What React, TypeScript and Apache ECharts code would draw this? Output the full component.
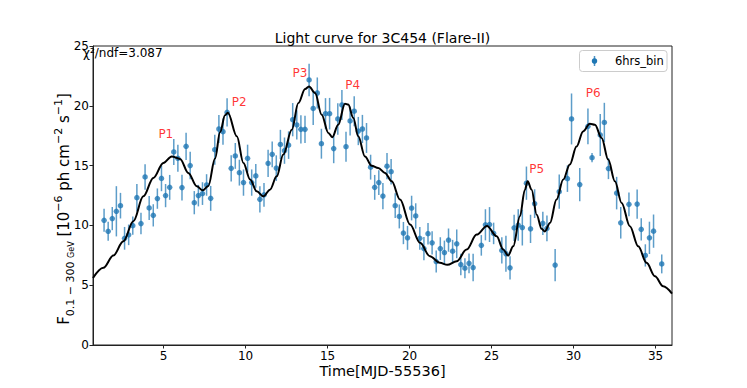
import React, { useEffect, useRef } from 'react';
import * as echarts from 'echarts';

const times = [
  1.375, 1.625, 1.875, 2.125, 2.375, 2.625, 2.875, 3.125, 3.375, 3.625,
  3.875, 4.125, 4.375, 4.625, 4.875, 5.125, 5.375, 5.625, 5.875, 6.125,
  6.375, 6.625, 6.875, 7.125, 7.375, 7.625, 7.875, 8.125, 8.375, 8.625,
  8.875, 9.125, 9.375, 9.625, 9.875, 10.125, 10.375, 10.625, 10.875, 11.125,
  11.375, 11.625, 11.875, 12.125, 12.375, 12.625, 12.875, 13.125, 13.375, 13.625,
  13.875, 14.125, 14.375, 14.625, 14.875, 15.125, 15.375, 15.625, 15.875, 16.125,
  16.375, 16.625, 16.875, 17.125, 17.375, 17.625, 17.875, 18.125, 18.375, 18.625,
  18.875, 19.125, 19.375, 19.625, 19.875, 20.125, 20.375, 20.625, 20.875, 21.125,
  21.375, 21.625, 21.875, 22.125, 22.375, 22.625, 22.875, 23.125, 23.375, 23.625, 23.875,
  24.375, 24.625, 24.875, 25.125,
  25.625, 25.875, 26.125, 26.375, 26.625, 26.875, 27.125, 27.375, 27.625,
  28.125, 28.375,
  28.875, 29.125,
  29.625, 29.875,
  30.375,
  30.875, 31.125,
  31.625, 31.875, 32.125,
  32.625, 32.875,
  33.375,
  33.875, 34.125, 34.375, 34.625, 34.875,
  35.375,
];

const fluxes = [
  10.43, 9.51, 10.57, 11.18, 11.65, 8.92, 9.21, 9.98, 12.32, 10.15,
  14.05, 11.46, 10.84, 12.24, 13.93, 12.49, 13.18, 16.14, 15.61, 13.16,
  16.61, 15.0, 11.9, 12.49, 12.66, 13.38, 12.26, 16.33, 18.06, 17.84,
  19.45, 14.77, 15.81, 14.41, 13.58, 15.61, 13.58, 14.14, 12.18, 12.55,
  15.19, 15.94, 14.79, 16.77, 16.25, 16.71, 18.84, 18.4, 18.03, 18.03,
  22.16, 19.78, 21.07, 16.83, 19.34, 19.34, 16.42, 18.9, 20.07, 16.58,
  18.73, 19.55, 17.89, 18.06, 17.31, 14.87, 13.18, 13.58, 12.45, 14.95,
  14.49, 11.65, 10.75, 9.36, 8.96, 11.45, 10.79, 8.92, 8.06, 9.31,
  8.54, 6.98, 8.06, 7.73, 8.77, 7.84, 8.46, 6.73, 6.42, 6.83, 6.47,
  8.33, 10.05, 10.07, 9.33,
  7.91, 7.63, 6.45, 9.8, 10.03, 9.82, 13.53, 9.71, 11.82,
  10.17, 9.75,
  6.68, 12.82,
  13.91, 18.9,
  13.41,
  18.28, 15.66,
  17.56, 18.61, 14.75,
  12.7, 10.22,
  11.76,
  11.78, 9.67, 7.49, 8.96, 9.52,
  6.78,
];

const errors = [
  0.97, 0.8, 0.97, 2.1, 1.07, 0.95, 0.86, 0.77, 1.15, 0.9,
  1.07, 1.0, 0.93, 0.85, 1.07, 0.97, 1.04, 1.08, 1.13, 1.08,
  1.14, 1.15, 0.97, 0.9, 0.95, 0.9, 1.04, 1.25, 1.18, 1.1,
  1.18, 1.1, 1.08, 1.08, 1.1, 1.14, 1.1, 1.0, 1.1, 1.0,
  1.14, 1.07, 1.07, 1.22, 1.1, 1.15, 1.39, 1.22, 1.18, 1.14,
  1.36, 1.39, 1.3, 1.25, 1.3, 1.32, 1.22, 1.32, 1.25, 1.25,
  1.22, 1.25, 1.18, 1.18, 1.25, 1.04, 1.04, 1.04, 1.1, 1.1,
  1.07, 1.04, 1.0, 0.93, 1.0, 1.03, 1.06, 0.95, 0.97, 0.9,
  0.97, 0.92, 0.95, 1.0, 0.97, 0.95, 1.2, 0.9, 0.83, 0.83, 1.15,
  0.86, 1.3, 1.46, 0.9,
  1.1, 1.5, 0.97, 1.1, 1.32, 1.5, 1.39, 1.18, 1.2,
  0.97, 1.08,
  1.35, 1.43,
  1.11, 2.13,
  1.39,
  1.49, 0.39,
  1.76, 1.64, 0.88,
  1.36, 1.32,
  1.0,
  1.22, 0.93, 0.93, 1.35, 1.39,
  0.79,
];

const curveT = [
  0.7, 1.33, 1.94, 2.55, 3.16, 3.77, 4.38, 4.99, 5.5, 6.01,
  6.51, 7.03, 7.39, 7.73, 8.14, 8.45, 8.75, 8.92, 9.47, 9.87,
  10.28, 10.68, 11.09, 11.49, 11.9, 12.3, 12.82, 13.22, 13.63, 13.87,
  14.24, 14.64, 15.05, 15.29, 15.65, 16.06, 16.26, 16.57, 16.87, 17.28,
  17.69, 18.09, 18.5, 18.91, 19.42, 20.03, 20.64, 21.24, 21.85, 22.3,
  22.87, 23.48, 24.09, 24.72, 25.31, 25.71, 26.01, 26.32, 26.73, 27.03,
  27.2, 27.44, 27.75, 28.05, 28.25, 28.56, 28.96, 29.37, 29.77, 30.18,
  30.58, 30.99, 31.3, 31.71, 32.11, 32.52, 32.93, 33.43, 33.94, 34.45,
  34.96, 35.46, 36.0,
];

const curveF = [
  5.6, 6.45, 7.48, 8.67, 10.35, 12.43, 13.97, 15.22, 15.77, 15.56,
  14.39, 13.27, 12.93, 13.3, 15.6, 17.8, 19.2, 19.42, 17.45, 15.22,
  13.83, 12.85, 12.43, 12.99, 14.1, 15.92, 18.0, 20.23, 21.4, 21.62,
  21.07, 19.26, 17.73, 17.38, 18.42, 20.18, 20.1, 18.98, 17.45, 15.77,
  14.99, 14.8, 14.39, 13.69, 12.16, 10.07, 8.54, 7.42, 6.87, 6.7,
  7.0, 7.98, 9.23, 9.95, 9.09, 7.98, 7.48, 8.25, 10.76, 12.99,
  13.69, 12.99, 10.9, 9.71, 9.5, 10.2, 12.16, 13.83, 15.1, 16.6,
  17.86, 18.5, 18.42, 17.31, 15.5, 13.69, 11.88, 9.93, 8.25, 6.87,
  5.75, 4.91, 4.3,
];

const peakNames = ['P1', 'P2', 'P3', 'P4', 'P5', 'P6'];
const peakT = [5.14, 9.62, 13.32, 16.53, 27.75, 31.19];
const peakF = [17.65, 20.3, 22.72, 21.75, 14.73, 21.05];

const xTickValues = [5, 10, 15, 20, 25, 30, 35];

const titleText = 'Light curve for 3C454 (Flare-II)';
const xLabelText = 'Time[MJD-55536]';
const legendText = '6hrs_bin';
const chiText = 'χ²/ndf=3.087';

const FONT = 'DejaVu Sans';
const BLUE = '#1f77b4';

export default function App() {
  const ref = useRef<HTMLDivElement>(null);
  useEffect(() => {
    document.body.style.margin = '0';
    const chart = echarts.init(ref.current!, null, { renderer: 'svg' });
    const pts = times.map((t, i) => [t, fluxes[i], errors[i]]);
    const curve = curveT.map((t, i) => [t, curveF[i]]);
    const peaks = peakT.map((t, i) => ({ name: peakNames[i], value: [t, peakF[i]] }));

    const option: any = {
      animation: false,
      grid: {
        left: 93,
        right: 75,
        top: 46,
        bottom: 43,
        show: true,
        borderColor: '#222',
        borderWidth: 1,
        backgroundColor: 'transparent',
      },
      xAxis: {
        type: 'value',
        min: 0.7,
        max: 36,
        axisLine: { show: true, onZero: false, lineStyle: { color: '#222', width: 1 } },
        axisTick: { show: true, length: 3.5, customValues: xTickValues, lineStyle: { color: '#222' } },
        axisLabel: {
          customValues: xTickValues,
          margin: 5,
          fontSize: 12,
          color: '#000',
          fontFamily: FONT,
        },
        splitLine: { show: false },
      },
      yAxis: {
        type: 'value',
        min: 0,
        max: 25,
        interval: 5,
        axisLine: { show: true, lineStyle: { color: '#222', width: 1 } },
        axisTick: { show: true, length: 3.5, lineStyle: { color: '#222' } },
        axisLabel: { margin: 4, fontSize: 12, color: '#000', fontFamily: FONT },
        splitLine: { show: false },
      },
      series: [
        {
          type: 'custom',
          name: 'errors',
          data: pts,
          z: 2,
          renderItem: (params: any, api: any) => {
            const x = api.value(0);
            const y = api.value(1);
            const e = api.value(2);
            const top = api.coord([x, y + e]);
            const bot = api.coord([x, y - e]);
            return {
              type: 'line',
              shape: { x1: top[0], y1: top[1], x2: bot[0], y2: bot[1] },
              style: { stroke: BLUE, lineWidth: 1.5, opacity: 0.72 },
            };
          },
        },
        {
          type: 'scatter',
          name: legendText,
          data: pts.map((p) => [p[0], p[1]]),
          symbol: 'circle',
          symbolSize: 5.5,
          itemStyle: { color: BLUE },
          z: 3,
        },
        {
          type: 'line',
          name: 'fit',
          data: curve,
          smooth: 0.35,
          smoothMonotone: 'x',
          showSymbol: false,
          lineStyle: { color: '#000', width: 2 },
          z: 4,
        },
        {
          type: 'scatter',
          name: 'peaks',
          data: peaks,
          symbolSize: 1,
          itemStyle: { color: 'rgba(0,0,0,0)' },
          label: {
            show: true,
            position: 'inside',
            formatter: '{b}',
            color: '#ff0000',
            fontSize: 12,
            fontFamily: FONT,
          },
          z: 5,
        },
      ],
      graphic: [
        {
          type: 'text',
          x: 382.5,
          y: 38,
          style: {
            text: titleText,
            align: 'center',
            verticalAlign: 'middle',
            fontSize: 14,
            fontFamily: FONT,
            fill: '#000',
          },
        },
        {
          type: 'text',
          x: 382.5,
          y: 371,
          style: {
            text: xLabelText,
            align: 'center',
            verticalAlign: 'middle',
            fontSize: 14.5,
            fontFamily: FONT,
            fill: '#000',
          },
        },
        {
          type: 'text',
          x: 83,
          y: 53,
          z: 10,
          style: {
            text: chiText,
            align: 'left',
            verticalAlign: 'middle',
            fontSize: 12,
            fontFamily: FONT,
            fill: '#000',
          },
        },
        {
          type: 'text',
          x: 64,
          y: 209,
          rotation: Math.PI / 2,
          style: {
            text:
              '{m|F}{sub|0.1 − 300 }{sub2|GeV}{m| [10}{sup|−6}{m| ph cm}{sup|−2}{m| s}{sup|−1}{m|]}',
            align: 'center',
            verticalAlign: 'middle',
            fill: '#000',
            rich: {
              m: { fontSize: 15, fontFamily: FONT, lineHeight: 23, verticalAlign: 'middle' },
              sub: { fontSize: 11, fontFamily: FONT, lineHeight: 13, verticalAlign: 'bottom' },
              sub2: { fontSize: 8, fontFamily: FONT, lineHeight: 11, verticalAlign: 'bottom' },
              sup: { fontSize: 11, fontFamily: FONT, lineHeight: 14, verticalAlign: 'top' },
            },
          },
        },
        {
          type: 'group',
          children: [
            {
              type: 'rect',
              shape: { x: 579.5, y: 50.5, width: 87.5, height: 21, r: 3 },
              style: { fill: 'rgba(255,255,255,0.8)', stroke: '#cccccc', lineWidth: 1 },
            },
            {
              type: 'line',
              shape: { x1: 594.5, y1: 56, x2: 594.5, y2: 66 },
              style: { stroke: BLUE, lineWidth: 1.5, opacity: 0.8 },
            },
            {
              type: 'circle',
              shape: { cx: 594.5, cy: 61, r: 2.75 },
              style: { fill: BLUE },
            },
            {
              type: 'text',
              x: 615,
              y: 61,
              style: {
                text: legendText,
                verticalAlign: 'middle',
                fontSize: 11.5,
                fontFamily: FONT,
                fill: '#000',
              },
            },
          ],
        },
      ],
    };
    chart.setOption(option);
    return () => chart.dispose();
  }, []);
  return <div ref={ref} style={{ width: 747, height: 388 }} />;
}
